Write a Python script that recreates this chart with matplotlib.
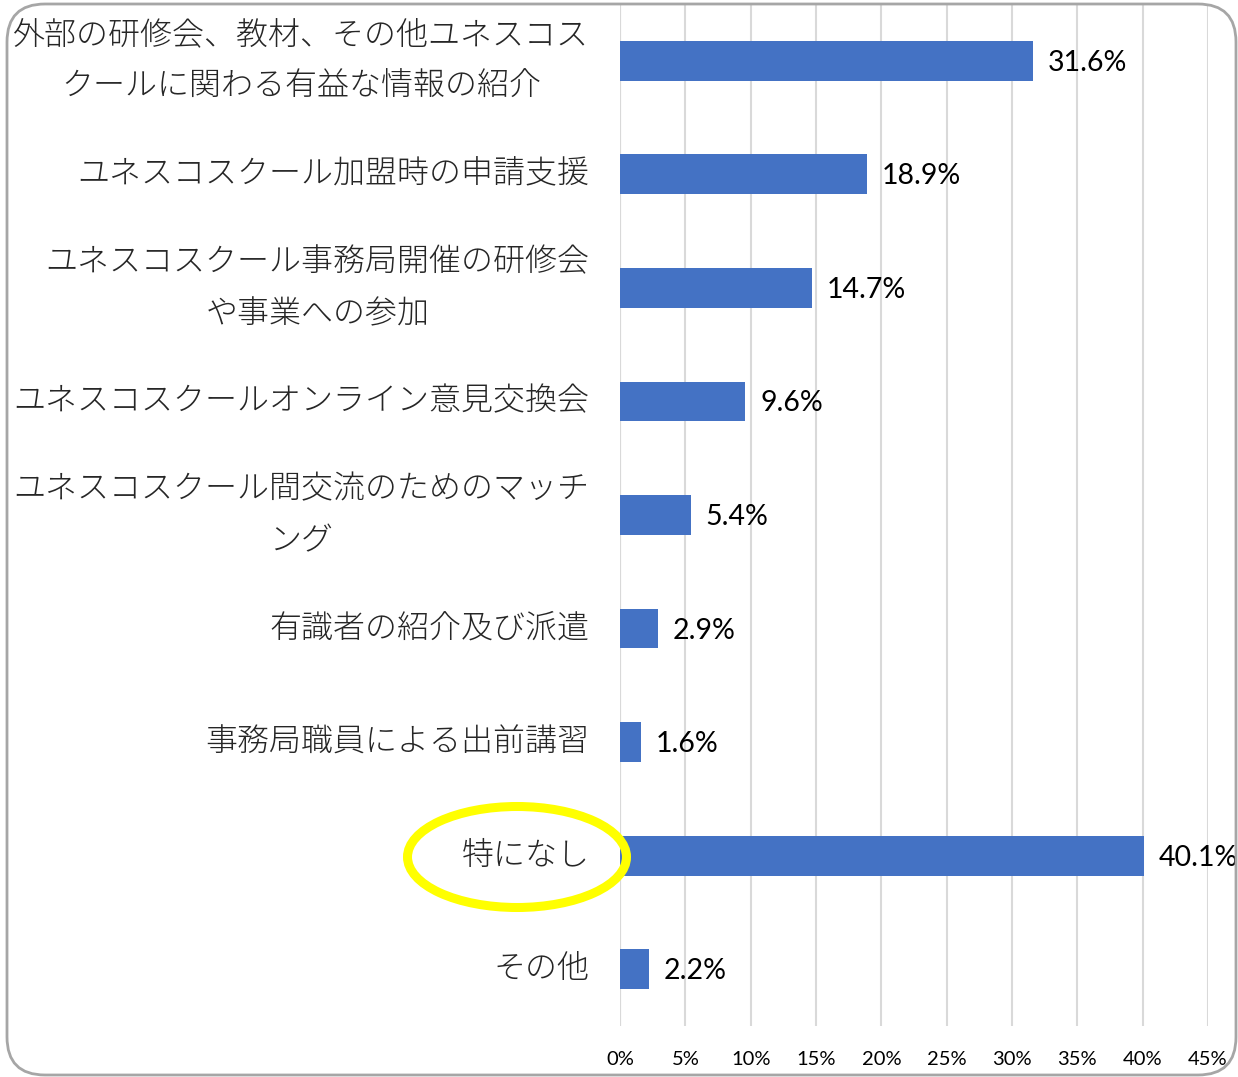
import matplotlib
matplotlib.use("Agg")
import matplotlib.pyplot as plt
from matplotlib.patches import Ellipse, FancyBboxPatch
from matplotlib.transforms import IdentityTransform
from matplotlib.ticker import FuncFormatter

categories = [
    "外部の研修会、教材、その他ユネスコス\nクールに関わる有益な情報の紹介",
    "ユネスコスクール加盟時の申請支援",
    "ユネスコスクール事務局開催の研修会\nや事業への参加",
    "ユネスコスクールオンライン意見交換会",
    "ユネスコスクール間交流のためのマッチ\nング",
    "有識者の紹介及び派遣",
    "事務局職員による出前講習",
    "特になし",
    "その他",
]
values = [31.6, 18.9, 14.7, 9.6, 5.4, 2.9, 1.6, 40.1, 2.2]
value_labels = ["31.6%", "18.9%", "14.7%", "9.6%", "5.4%", "2.9%", "1.6%", "40.1%", "2.2%"]
xticks = [0, 5, 10, 15, 20, 25, 30, 35, 40, 45]

W, H = 1238, 1077
fig = plt.figure(figsize=(W / 100, H / 100), dpi=100)
fig.patch.set_facecolor("white")

ax = fig.add_axes([620 / W, 1 - 1026 / H, (1208 - 620) / W, (1026 - 4) / H])
y = list(range(len(categories)))
ax.barh(y, values, height=0.35, color="#4472C4", zorder=3)
ax.set_xlim(0, 45)
ax.set_ylim(len(categories) - 0.5, -0.5)
ax.set_xticks(xticks)
ax.xaxis.set_major_formatter(FuncFormatter(lambda v, p: f"{v:.0f}%"))
ax.grid(axis="x", color="#d9d9d9", linewidth=1.5, zorder=0)
ax.grid(axis="y", visible=False)
for s in ax.spines.values():
    s.set_visible(False)
ax.axvline(0, color="#d9d9d9", linewidth=1.5, zorder=1)
ax.tick_params(axis="x", length=0, pad=18, labelsize=14.5, labelcolor="#000000")
ax.tick_params(axis="y", length=0, pad=22)
for lab in ax.get_xticklabels():
    lab.set_fontfamily(["Lato", "DejaVu Sans"])

ax.set_yticks(y)
ax.set_yticklabels(categories, fontsize=23, color="#262626", fontweight="light",
                   family=["Noto Sans CJK JP", "DejaVu Sans"], linespacing=1.65)
for lab in ax.get_yticklabels():
    lab.set_multialignment("center")
    lab.set_verticalalignment("center")

for yi, v, t in zip(y, values, value_labels):
    ax.annotate(t, (v, yi), xytext=(15, -2), textcoords="offset pixels",
                ha="left", va="center", fontsize=20.5, color="#000000",
                family=["Lato", "DejaVu Sans"])

# yellow highlight ellipse
ell = Ellipse((517 / W, 1 - 857 / H), 219 / W, 101 / H, transform=fig.transFigure,
              fill=False, edgecolor="#FFFF00", linewidth=6.5, zorder=10)
fig.patches.append(ell)

# rounded chart border
border = FancyBboxPatch((7, 2), 1229, 1071, boxstyle="round,pad=0,rounding_size=38",
                        transform=IdentityTransform(), fill=False,
                        edgecolor="#a6a6a6", linewidth=2)
fig.patches.append(border)

fig.savefig("out.png", dpi=100, facecolor="white")
